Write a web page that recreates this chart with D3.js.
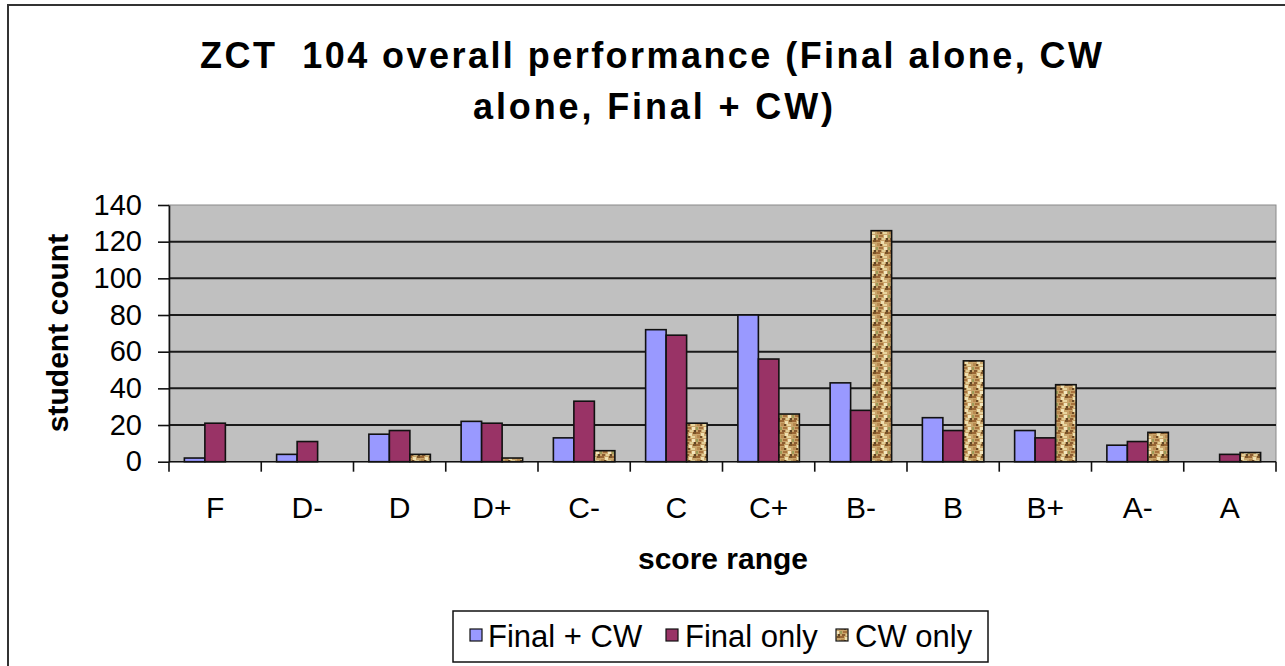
<!DOCTYPE html>
<html>
<head>
<meta charset="utf-8">
<script src="https://cdn.jsdelivr.net/npm/d3@7"></script>
<style>
  html, body { margin: 0; padding: 0; background: #fff; }
  svg { display: block; font-family: "Liberation Sans", Arial, sans-serif; }
</style>
</head>
<body>
<svg id="chart" width="1285" height="666"></svg>
<script>
// ---- data ----
const categories = ["F", "D-", "D", "D+", "C-", "C", "C+", "B-", "B", "B+", "A-", "A"];
const seriesNames = ["Final + CW", "Final only", "CW only"];
const finalPlusCW = [2, 4, 15, 22, 13, 72, 80, 43, 24, 17, 9, 0];
const finalOnly   = [21, 11, 17, 21, 33, 69, 56, 28, 17, 13, 11, 4];
const cwOnly      = [0, 0, 4, 2, 6, 21, 26, 126, 55, 42, 16, 5];
const yTicks = [0, 20, 40, 60, 80, 100, 120, 140];
const titleLines = ["ZCT  104 overall performance (Final alone, CW", "alone, Final + CW)"];
const xTitle = "score range";
const yTitle = "student count";

const seriesValues = [finalPlusCW, finalOnly, cwOnly];

// ---- layout ----
const svg = d3.select("#chart");
const plot = { left: 169, right: 1276, top: 205, bottom: 461.7 };

// outer chart frame
svg.append("rect")
  .attr("x", 8).attr("y", 5).attr("width", 1300).attr("height", 700)
  .attr("fill", "#fff").attr("stroke", "#333").attr("stroke-width", 2);

// texture pattern for "CW only"
const defs = svg.append("defs");
const pat = defs.append("pattern").attr("id", "tex")
  .attr("patternUnits", "userSpaceOnUse").attr("width", 12).attr("height", 12);
pat.append("rect").attr("width", 12).attr("height", 12).attr("fill", "#c9a46a");
const specks = [
  [0,0,4,2,"#9a6634"],[5,1,3,3,"#efe0b0"],[9,0,3,2,"#7a5428"],
  [1,3,3,3,"#b88a50"],[4,4,2,2,"#6d4a24"],[7,4,4,2,"#e8d6a0"],
  [0,7,2,3,"#9c9a58"],[3,7,4,2,"#a8733e"],[8,7,3,3,"#f3e6bd"],
  [2,10,3,2,"#8a5c30"],[6,10,3,2,"#e3cf98"],[10,10,2,2,"#5f4526"]
];
specks.forEach(s => pat.append("rect").attr("x", s[0]).attr("y", s[1])
  .attr("width", s[2]).attr("height", s[3]).attr("fill", s[4]));

const colors = ["#9999ff", "#993366", "url(#tex)"];

// scales
const x = d3.scaleBand().domain(categories).range([plot.left, plot.right]).paddingInner(0).paddingOuter(0);
const xs = d3.scaleBand().domain(seriesNames).range([0, x.bandwidth()]).paddingInner(0).paddingOuter(0.75);
const y = d3.scaleLinear().domain([0, 140]).range([plot.bottom, plot.top]);

// plot background
svg.append("rect")
  .attr("x", plot.left).attr("y", plot.top)
  .attr("width", plot.right - plot.left).attr("height", plot.bottom - plot.top)
  .attr("fill", "#c0c0c0").attr("stroke", "#8a8a8a").attr("stroke-width", 1);

// gridlines
svg.append("g").selectAll("line")
  .data(yTicks.filter(t => t > 0 && t < 140))
  .join("line")
  .attr("x1", plot.left).attr("x2", plot.right)
  .attr("y1", d => y(d)).attr("y2", d => y(d))
  .attr("stroke", "#1a1a1a").attr("stroke-width", 2);

// bars
const barData = [];
seriesNames.forEach((s, si) => {
  categories.forEach((c, ci) => {
    const v = seriesValues[si][ci];
    if (v > 0) barData.push({ s, si, c, v });
  });
});
svg.append("g").selectAll("rect")
  .data(barData)
  .join("rect")
  .attr("x", d => x(d.c) + xs(d.s))
  .attr("y", d => y(d.v))
  .attr("width", xs.bandwidth())
  .attr("height", d => y(0) - y(d.v))
  .attr("fill", d => colors[d.si])
  .attr("stroke", "#111").attr("stroke-width", 1.6);

// y axis
const yAxis = d3.axisLeft(y).tickValues(yTicks).tickSize(11).tickSizeOuter(0).tickPadding(16);
const gy = svg.append("g").attr("transform", `translate(${plot.left},0)`).call(yAxis);
gy.select(".domain").attr("stroke", "#111").attr("stroke-width", 1.6);
gy.selectAll(".tick line").attr("stroke", "#111").attr("stroke-width", 1.6);
gy.selectAll(".tick text").attr("font-size", 29).attr("fill", "#000")
  .attr("font-family", "Liberation Sans, Arial, sans-serif");

// x axis line
svg.append("line")
  .attr("x1", plot.left).attr("x2", plot.right)
  .attr("y1", y(0)).attr("y2", y(0))
  .attr("stroke", "#111").attr("stroke-width", 1.6);
// x ticks at category boundaries
const bounds = categories.map(c => x(c)).concat([x(categories[categories.length - 1]) + x.bandwidth()]);
svg.append("g").selectAll("line").data(bounds).join("line")
  .attr("x1", d => d).attr("x2", d => d)
  .attr("y1", y(0)).attr("y2", y(0) + 10)
  .attr("stroke", "#111").attr("stroke-width", 1.6);
// x labels
svg.append("g").selectAll("text").data(categories).join("text")
  .attr("x", d => x(d) + x.bandwidth() / 2)
  .attr("y", 518)
  .attr("text-anchor", "middle")
  .attr("font-size", 30)
  .text(d => d);

// title
svg.append("text").attr("x", 651).attr("y", 68).attr("text-anchor", "middle")
  .attr("font-size", 36).attr("font-weight", "bold")
  .attr("textLength", 902).attr("lengthAdjust", "spacing")
  .style("white-space", "pre")
  .text(titleLines[0]);
svg.append("text").attr("x", 653).attr("y", 119).attr("text-anchor", "middle")
  .attr("font-size", 36).attr("font-weight", "bold")
  .attr("textLength", 360).attr("lengthAdjust", "spacing")
  .text(titleLines[1]);

// axis titles
svg.append("text").attr("x", 723).attr("y", 569).attr("text-anchor", "middle")
  .attr("font-size", 30).attr("font-weight", "bold").text(xTitle);
svg.append("text").attr("transform", "translate(68,333) rotate(-90)")
  .attr("text-anchor", "middle")
  .attr("font-size", 30).attr("font-weight", "bold").text(yTitle);

// legend
const lg = svg.append("g");
lg.append("rect").attr("x", 453).attr("y", 611).attr("width", 535).attr("height", 51)
  .attr("fill", "#fff").attr("stroke", "#111").attr("stroke-width", 1.5);
const legendItems = [
  { name: seriesNames[0], sx: 470, tx: 488 },
  { name: seriesNames[1], sx: 666, tx: 685 },
  { name: seriesNames[2], sx: 836, tx: 855 }
];
legendItems.forEach((it, i) => {
  lg.append("rect").attr("x", it.sx).attr("y", 629).attr("width", 12).attr("height", 12)
    .attr("fill", colors[i]).attr("stroke", "#111").attr("stroke-width", 1.2);
  lg.append("text").attr("x", it.tx).attr("y", 647).attr("font-size", 31).text(it.name);
});
</script>
</body>
</html>
